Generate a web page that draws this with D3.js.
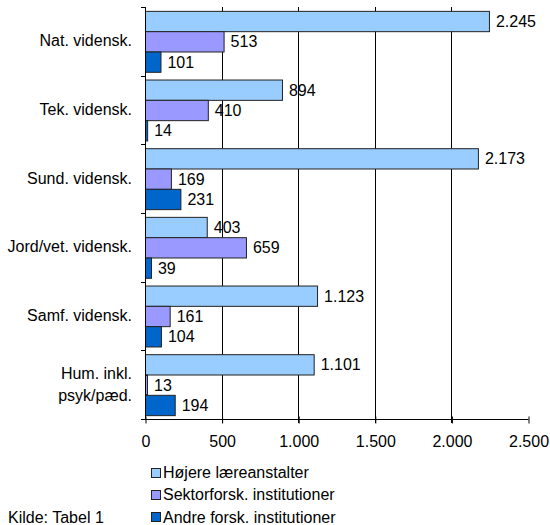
<!DOCTYPE html>
<html>
<head>
<meta charset="utf-8">
<script src="https://cdn.jsdelivr.net/npm/d3@7"></script>
<style>
  html, body { margin: 0; padding: 0; background: #fff; }
  svg { display: block; }
</style>
</head>
<body>
<svg id="chart" width="550" height="525"></svg>
<script>
const categories = ["Nat. vidensk.", "Tek. vidensk.", "Sund. vidensk.", "Jord/vet. vidensk.", "Samf. vidensk.", "Hum. inkl. psyk/pæd."];
const categoryLines = [["Nat. vidensk."], ["Tek. vidensk."], ["Sund. vidensk."], ["Jord/vet. vidensk."], ["Samf. vidensk."], ["Hum. inkl.", "psyk/pæd."]];
const seriesNames = ["Højere læreanstalter", "Sektorforsk. institutioner", "Andre forsk. institutioner"];
const hoejere = [2245, 894, 2173, 403, 1123, 1101];
const sektor = [513, 410, 169, 659, 161, 13];
const andre = [101, 14, 231, 39, 104, 194];
const xTicks = [0, 500, 1000, 1500, 2000, 2500];
const seriesColors = ["#99CCFF", "#9999FF", "#0066CC"];
const sourceText = "Kilde: Tabel 1";

(function () {
const seriesValues = [hoejere, sektor, andre];
const locale = d3.formatLocale({ decimal: ",", thousands: ".", grouping: [3], currency: ["", ""] });
const fmt = locale.format(",d");
const FONT = "Liberation Sans";

const svg = d3.select("#chart").attr("font-family", FONT);
const mLeft = 145, mRight = 528, mTop = 7, mBottom = 419;
const fontSize = 16;

const x = d3.scaleLinear().domain([0, 2500]).range([mLeft, mRight]);
const y = d3.scaleBand().domain(categories).range([mTop, mBottom]).paddingInner(0).paddingOuter(0);
const inner = d3.scaleBand().domain(seriesNames).range([0, y.bandwidth()]).paddingOuter(0.19).paddingInner(0);

// gridlines
svg.append("g").selectAll("line")
  .data(xTicks.filter(t => t > 0 && t < 2500))
  .join("line")
  .attr("x1", d => Math.round(x(d)) + 0.5).attr("x2", d => Math.round(x(d)) + 0.5)
  .attr("y1", mTop).attr("y2", mBottom + 4)
  .attr("stroke", "#000").attr("stroke-width", 1);

// bars
const barG = svg.append("g");
categories.forEach((c, ci) => {
  seriesNames.forEach((s, si) => {
    const v = seriesValues[si][ci];
    const y0 = y(c) + inner(s);
    barG.append("rect")
      .attr("x", x(0) + 0.5)
      .attr("y", y0 + 0.5)
      .attr("width", Math.max(0, x(v) - x(0)))
      .attr("height", inner.bandwidth())
      .attr("fill", seriesColors[si])
      .attr("stroke", "#222")
      .attr("stroke-width", 1);
    barG.append("text")
      .attr("x", x(v) + 7)
      .attr("y", y0 + inner.bandwidth() / 2 + 0.5)
      .attr("dy", "0.35em")
      .attr("font-family", FONT)
      .attr("font-size", fontSize)
      .attr("fill", "#000")
      .text(fmt(v));
  });
});

// x axis
const xAxis = d3.axisBottom(x).tickValues(xTicks).tickFormat(d => fmt(d)).tickSize(4).tickPadding(10);
const gx = svg.append("g").attr("transform", `translate(0.5,${mBottom + 0.5})`).call(xAxis);
gx.attr("font-family", FONT).attr("font-size", fontSize);
gx.select(".domain").attr("stroke", "#000").attr("d", `M${mLeft},0H${mRight}`);
gx.selectAll(".tick line").attr("stroke", "#000").attr("y1", -3).attr("y2", 4);
gx.selectAll(".tick text").attr("font-size", fontSize).attr("font-family", FONT).attr("fill", "#000")
  .attr("y", 21.5).attr("dy", "0.35em");

// y axis
const boundaries = categories.map(c => y(c)).concat([mBottom]);
const gy = svg.append("g");
gy.append("line").attr("x1", mLeft + 0.5).attr("x2", mLeft + 0.5).attr("y1", mTop).attr("y2", mBottom + 0.5).attr("stroke", "#000");
gy.selectAll("line.tk").data(boundaries).join("line").attr("class", "tk")
  .attr("x1", mLeft - 4).attr("x2", mLeft + 0.5)
  .attr("y1", d => Math.round(d) + 0.5).attr("y2", d => Math.round(d) + 0.5)
  .attr("stroke", "#000");

// category labels
categories.forEach((c, ci) => {
  const lines = categoryLines[ci];
  const cy = y(c) + y.bandwidth() / 2 - 0.5;
  const lh = 22;
  const t = svg.append("text")
    .attr("text-anchor", "end")
    .attr("font-family", FONT)
    .attr("font-size", fontSize)
    .attr("fill", "#000");
  lines.forEach((ln, li) => {
    t.append("tspan")
      .attr("x", 132)
      .attr("y", cy + (li - (lines.length - 1) / 2) * lh)
      .attr("dy", "0.35em")
      .text(ln);
  });
});

// legend
const lg = svg.append("g");
seriesNames.forEach((s, si) => {
  const cy = 472.5 + si * 22.2;
  lg.append("rect")
    .attr("x", 151.5).attr("y", Math.round(cy - 5) + 0.5)
    .attr("width", 9).attr("height", 9)
    .attr("fill", seriesColors[si]).attr("stroke", "#222");
  lg.append("text")
    .attr("x", 163).attr("y", cy).attr("dy", "0.35em")
    .attr("font-family", FONT)
    .attr("font-size", fontSize).attr("fill", "#000")
    .text(s);
});

svg.append("text")
  .attr("x", 8).attr("y", 517).attr("dy", "0.35em")
  .attr("font-family", FONT)
  .attr("font-size", fontSize).attr("fill", "#000")
  .text(sourceText);
})();
</script>
</body>
</html>
